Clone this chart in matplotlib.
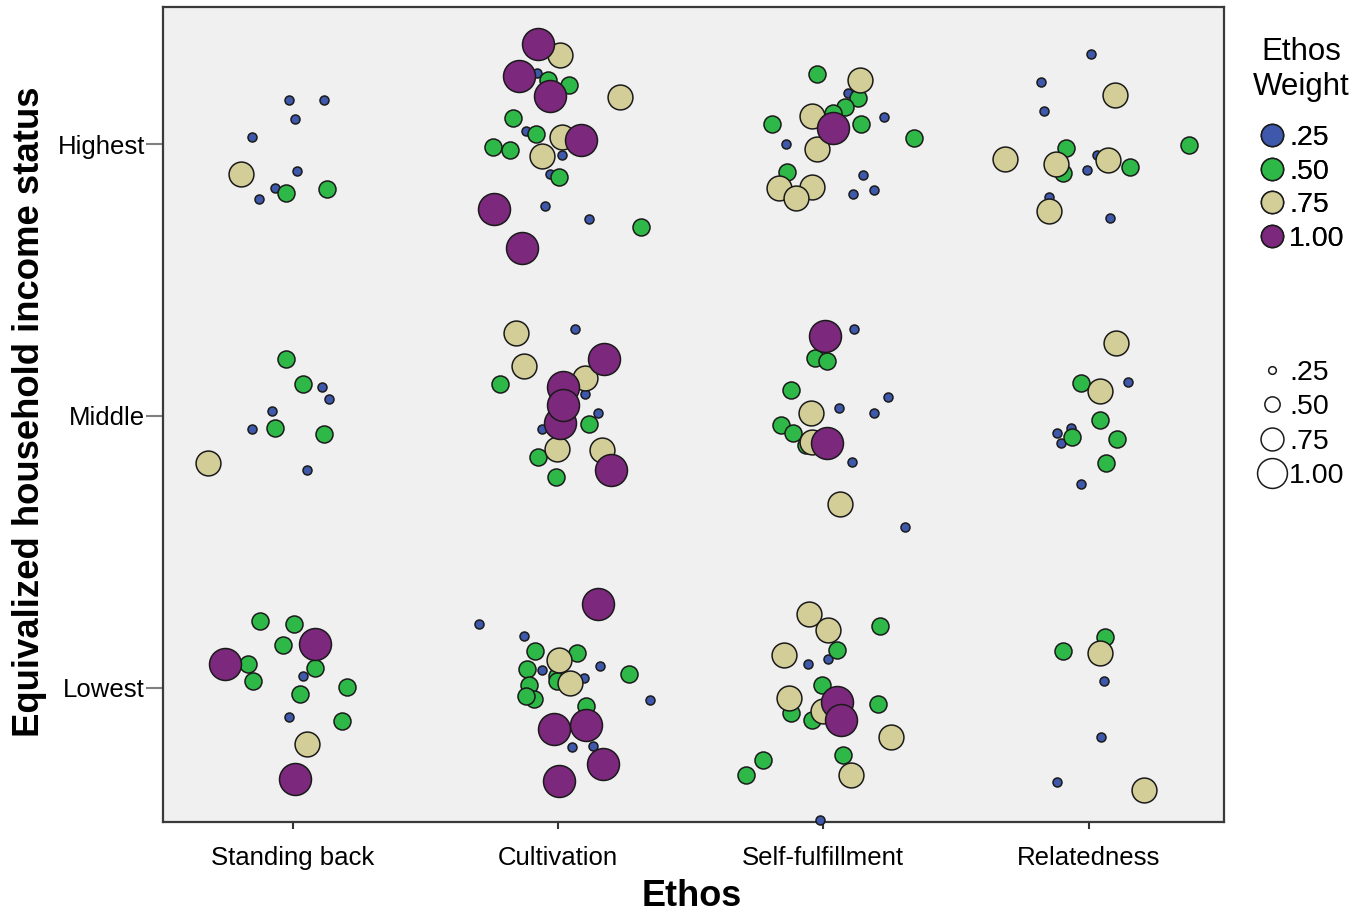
import matplotlib
matplotlib.use("Agg")
import matplotlib.pyplot as plt
from matplotlib.lines import Line2D

plt.rcParams['font.family'] = ['Liberation Sans', 'DejaVu Sans']

categories = ["Standing back", "Cultivation", "Self-fulfillment", "Relatedness"]
income_levels = ["Lowest", "Middle", "Highest"]
weight_labels = [".25", ".50", ".75", "1.00"]
colors = ["#3E58AC", "#2EB848", "#D3CE97", "#7C287D"]

# jittered positions: x = ethos index (1..4) + jitter, y = income level (1..3) + jitter
x_w25 = [0.988, 1.117, 1.011, 0.847, 1.018, 0.935, 0.872,
         1.923, 1.879, 2.017, 1.971, 1.950, 2.116,
         3.092, 3.227, 2.858, 3.149, 3.193, 3.111,
         4.009, 3.822, 3.830, 4.031, 3.993, 3.852, 4.081,
         1.113, 1.136, 0.922, 0.847, 1.054,
         2.066, 2.104, 2.152, 1.942,
         3.117, 3.243, 3.058, 3.191, 3.108, 3.308,
         4.148, 3.934, 3.880, 3.894, 3.973,
         1.041, 0.988,
         1.704, 1.873, 2.158, 1.941, 2.097, 2.348, 2.054, 2.133,
         2.941, 3.019, 2.988,
         4.056, 4.046, 3.880]
y_w25 = [3.163, 3.163, 3.093, 3.025, 2.901, 2.838, 2.797,
         3.261, 3.048, 2.960, 2.889, 2.771, 2.723,
         3.188, 3.099, 2.999, 2.887, 2.830, 2.815,
         3.332, 3.230, 3.121, 2.961, 2.903, 2.805, 2.729,
         2.108, 2.063, 2.018, 1.952, 1.801,
         2.320, 2.081, 2.010, 1.952,
         2.319, 2.069, 2.029, 2.010, 1.830, 1.591,
         2.124, 1.957, 1.936, 1.900, 1.749,
         1.043, 0.893,
         1.236, 1.190, 1.081, 1.065, 1.037, 0.957, 0.783, 0.786,
         1.087, 1.108, 0.514,
         1.025, 0.820, 0.654]

x_w50 = [0.977, 1.129,
         1.964, 2.040, 1.829, 1.919, 1.757, 1.818, 2.006, 2.314,
         2.978, 3.129, 3.082, 3.038, 3.142, 2.806, 3.343, 2.862,
         4.378, 3.914, 3.902, 4.156,
         0.975, 1.039, 0.935, 1.117,
         1.783, 2.116, 1.926, 1.991,
         2.969, 3.015, 2.878, 2.841, 2.887, 2.934,
         3.971, 4.041, 3.939, 4.106, 4.066,
         0.877, 1.004, 0.966, 0.833, 1.084, 0.852, 1.204, 1.028, 1.188,
         1.915, 2.072, 2.268, 1.883, 1.996, 1.998, 1.890, 1.911, 1.881, 2.106,
         3.215, 3.052, 2.994, 2.877, 2.959, 3.208, 3.073, 2.774, 2.709,
         4.062, 3.902]
y_w50 = [2.820, 2.833,
         3.236, 3.218, 3.097, 3.037, 2.989, 2.977, 2.879, 2.695,
         3.258, 3.169, 3.136, 3.114, 3.072, 3.075, 3.023, 2.897,
         2.997, 2.986, 2.895, 2.915,
         2.208, 2.117, 1.956, 1.935,
         2.118, 1.969, 1.850, 1.775,
         2.214, 2.203, 2.096, 1.967, 1.939, 1.893,
         2.120, 1.985, 1.924, 1.917, 1.826,
         1.246, 1.236, 1.157, 1.087, 1.075, 1.026, 1.004, 0.977, 0.878,
         1.135, 1.129, 1.050, 1.069, 1.044, 1.026, 1.012, 0.961, 0.971, 0.934,
         1.228, 1.139, 1.010, 0.906, 0.883, 0.942, 0.753, 0.734, 0.679,
         1.188, 1.135]

x_w75 = [0.807,
         2.009, 2.235, 2.014, 1.942,
         3.137, 2.959, 2.978, 2.835, 2.959, 2.899,
         4.099, 3.683, 3.877, 4.072, 3.852,
         0.682,
         1.842, 1.873, 2.103, 1.995, 2.168,
         2.953, 2.959, 3.062,
         4.103, 4.041,
         1.054,
         2.006, 2.047,
         2.948, 3.019, 2.853, 2.871, 3.000, 3.255, 3.104,
         4.043, 4.209]
y_w75 = [2.891,
         3.326, 3.173, 3.026, 2.956,
         3.236, 3.102, 2.983, 2.839, 2.842, 2.803,
         3.181, 2.946, 2.928, 2.942, 2.753,
         1.826,
         2.306, 2.185, 2.139, 1.879, 1.875,
         2.010, 1.906, 1.676,
         2.270, 2.093,
         0.792,
         1.102, 1.018,
         1.273, 1.212, 1.122, 0.964, 0.914, 0.820, 0.679,
         1.129, 0.626]

x_w100 = [1.926, 1.854, 1.971, 2.086, 1.760, 1.866,
          3.035,
          2.175, 2.021, 2.008, 2.021, 2.202,
          3.006, 3.013,
          1.084, 0.745, 1.010,
          2.153, 1.984, 2.106, 2.170, 2.006,
          3.052, 3.067]
y_w100 = [3.369, 3.249, 3.175, 3.016, 2.760, 2.619,
          3.060,
          2.208, 2.106, 1.975, 2.040, 1.801,
          2.294, 1.902,
          1.163, 1.087, 0.664,
          1.310, 0.850, 0.863, 0.721, 0.657,
          0.949, 0.883]

series_x = [x_w25, x_w50, x_w75, x_w100]
series_y = [y_w25, y_w50, y_w75, y_w100]
marker_sizes = [42, 150, 320, 530]

fig = plt.figure(figsize=(13.56, 9.17), dpi=100)
ax = fig.add_axes([163 / 1356, 1 - 822 / 917, (1224 - 163) / 1356, (822 - 7) / 917])
ax.set_facecolor("#F0F0F0")

for i in range(4):
    ax.scatter(series_x[i], series_y[i], s=marker_sizes[i], c=colors[i],
               edgecolors="#1a1a1a", linewidths=1.1, zorder=3 + i, clip_on=False)

ax.set_xlim(0.512, 4.51)
ax.set_ylim(0.507, 3.504)
ax.set_xticks([1, 2, 3, 4])
ax.set_xticklabels(categories, fontsize=18.5)
ax.set_yticks([1, 2, 3])
ax.set_yticklabels(income_levels, fontsize=18.5)
ax.tick_params(axis="y", length=12, width=1.5, color="#808080", pad=1)
ax.tick_params(axis="x", length=5, width=1.5, color="#333333", pad=12)
for sp in ax.spines.values():
    sp.set_color("#3a3a3a")
    sp.set_linewidth(1.6)

fig.text(30 / 1356, 1 - 412 / 917, "Equivalized household income status", rotation=90,
         ha="center", va="center", fontsize=26.3, fontweight="bold")
fig.text(692 / 1356, 1 - 897 / 917, "Ethos", ha="center", va="center",
         fontsize=26, fontweight="bold")

# legend title
fig.text(1301 / 1356, 1 - 52 / 917, "Ethos", ha="center", va="center", fontsize=22.5)
fig.text(1301 / 1356, 1 - 87 / 917, "Weight", ha="center", va="center", fontsize=22.5)

# colour legend
h1 = [Line2D([], [], ls="", marker="o", markersize=16, markerfacecolor=c,
             markeredgecolor="#1a1a1a", markeredgewidth=1.1) for c in colors]
leg1 = fig.legend(h1, weight_labels, loc="upper left",
                  bbox_to_anchor=(1258 / 1356, 1 - 125 / 917), frameon=False,
                  fontsize=20.5, handlelength=1.0, handletextpad=0.1,
                  labelspacing=0.27, borderpad=0, borderaxespad=0)

# size legend
h2 = [Line2D([], [], ls="", marker="o", markersize=ms, markerfacecolor="white",
             markeredgecolor="#1a1a1a", markeredgewidth=1.1) for ms in [5.5, 11, 16.5, 21.5]]
leg2 = fig.legend(h2, weight_labels, loc="upper left",
                  bbox_to_anchor=(1258 / 1356, 1 - 360 / 917), frameon=False,
                  fontsize=20.5, handlelength=1.0, handletextpad=0.1,
                  labelspacing=0.29, borderpad=0, borderaxespad=0)
fig.add_artist(leg1)

fig.savefig("out.png", dpi=100)
